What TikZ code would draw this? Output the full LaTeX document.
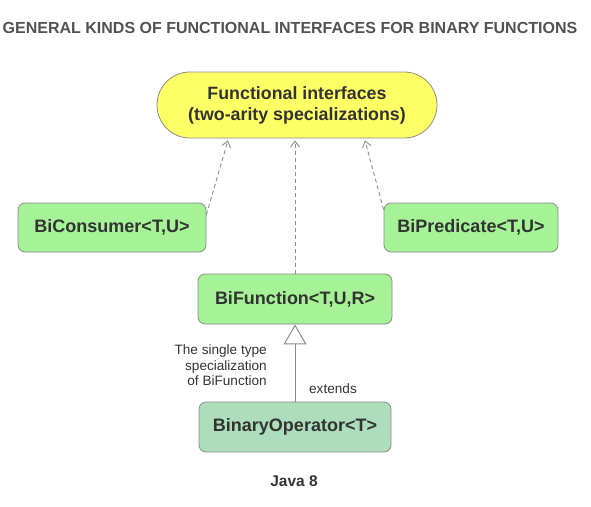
\documentclass[tikz,border=0pt]{standalone}
\usepackage{fontspec}
\setmainfont{Liberation Sans}
\usetikzlibrary{arrows.meta}
\definecolor{txt}{HTML}{333333}
\definecolor{edge}{HTML}{8C8C8C}
\definecolor{yel}{HTML}{FFFF66}
\definecolor{grn}{HTML}{A6F397}
\definecolor{grn2}{HTML}{ADDDBB}
\tikzset{
  box/.style={draw=edge, line width=0.8pt, rounded corners=7pt, fill=grn, text=txt,
    font=\fontsize{18}{20}\selectfont\bfseries, inner sep=0pt},
  dep/.style={draw=edge, line width=0.9pt, dash pattern=on 4pt off 3pt,
    -{Straight Barb[length=6pt,width=9pt]}},
  ext/.style={draw=edge, line width=1pt, -{Triangle[open,length=20pt,width=23pt,fill=white]}},
  lbl/.style={text=txt, font=\fontsize{13.6}{15.5}\selectfont, inner sep=0pt}
}
\begin{document}
\begin{tikzpicture}[x=1pt,y=-1pt]
\useasboundingbox (0,0) rectangle (591,506);
\node[text=txt!85!white, font=\fontsize{16}{18}\selectfont\bfseries, inner sep=0pt] (title) at (290,28) {GENERAL KINDS OF FUNCTIONAL INTERFACES FOR BINARY FUNCTIONS};
\node[draw=edge, line width=0.8pt, fill=yel, rounded corners=32.9pt, minimum width=280pt, minimum height=66pt,
  align=center, text=txt, font=\fontsize{17.8}{21}\selectfont\bfseries, inner sep=0pt] (fi) at (297,105)
  {Functional interfaces\\(two-arity specializations)};
\node[box, minimum width=188pt, minimum height=49pt] (bc) at (112,227.5) {BiConsumer<T,U>};
\node[box, minimum width=174pt, minimum height=49pt] (bp) at (471,227.5) {BiPredicate<T,U>};
\node[box, minimum width=194pt, minimum height=50pt] (bf) at (295,299) {BiFunction<T,U,R>};
\node[box, fill=grn2, minimum width=192pt, minimum height=50pt] (bo) at (295,427) {BinaryOperator<T>};
\node[text=txt, font=\fontsize{15.5}{18}\selectfont\bfseries, inner sep=0pt] (java) at (294,481) {Java 8};
\draw[dep] ([yshift=-12pt]bc.north east) -- ([xshift=-69pt,yshift=-2pt]fi.south);
\draw[dep] (bf.north) -- ([xshift=-2pt,yshift=-2pt]fi.south);
\draw[dep] ([yshift=-7pt]bp.north west) -- ([xshift=68pt,yshift=-2pt]fi.south);
\draw[ext] (bo.north) -- (bf.south);
\node[lbl] (extl) at (333,389) {extends};
\node[lbl, align=right, anchor=east] (spec) at (267,365.5) {The single type\\specialization\\of BiFunction};
\end{tikzpicture}
\end{document}
